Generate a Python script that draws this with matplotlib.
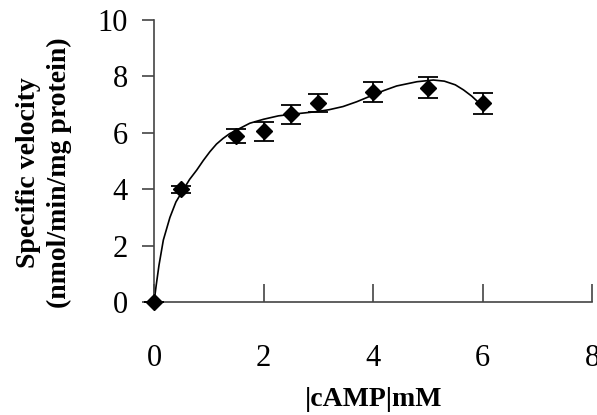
import numpy as np
import matplotlib.pyplot as plt

plt.rcParams['font.family'] = ['Liberation Serif', 'DejaVu Serif']

# measured points
camp = [0, 0.5, 1.5, 2, 2.5, 3, 4, 5, 6]
velocity = [0, 4.0, 5.9, 6.05, 6.65, 7.05, 7.45, 7.6, 7.05]
err = [0, 0.12, 0.25, 0.35, 0.35, 0.32, 0.36, 0.37, 0.37]

# fitted curve
curve_x = [0, 0.04, 0.09, 0.17, 0.29, 0.4, 0.53, 0.65, 0.78, 0.9, 1.02, 1.14,
           1.26, 1.38, 1.51, 1.75, 2.0, 2.27, 2.48, 2.97, 3.2, 3.45, 3.7, 3.95,
           4.2, 4.43, 4.8, 5.1, 5.3, 5.5, 5.65, 5.8, 5.9, 6.0]
curve_y = [0, 0.6, 1.3, 2.2, 3.0, 3.55, 3.97, 4.35, 4.68, 5.02, 5.33, 5.6,
           5.8, 5.97, 6.1, 6.34, 6.48, 6.6, 6.65, 6.75, 6.82, 6.93, 7.1, 7.3,
           7.5, 7.66, 7.81, 7.87, 7.83, 7.7, 7.52, 7.3, 7.12, 7.0]

fig = plt.figure(figsize=(5.97, 4.15), dpi=100)
ax = fig.add_axes([0.258, 0.272, 0.734, 0.68])

ax.plot(curve_x, curve_y, c='k', lw=1.2, clip_on=False)
ax.errorbar(camp, velocity, yerr=err, fmt='D', c='k', ms=8, capsize=7,
            elinewidth=1.3, capthick=1.3, clip_on=False, zorder=3)

ax.set_xlim(0, 8)
ax.set_ylim(0, 10)
ax.set_xticks([0, 2, 4, 6, 8])
ax.set_yticks([0, 2, 4, 6, 8, 10])
ax.spines['top'].set_visible(False)
ax.spines['right'].set_visible(False)
for s in ['left', 'bottom']:
    ax.spines[s].set_color('#444444')
    ax.spines[s].set_linewidth(1.2)
ax.tick_params(axis='x', direction='in', length=13, width=1.2, color='#444444',
               labelsize=22, pad=30)
ax.tick_params(axis='y', direction='out', length=9, width=1.2, color='#444444',
               labelsize=22, pad=10)

ax.set_xlabel('|cAMP|mM', fontsize=20, fontweight='bold', labelpad=10)
fig.text(0.073, 0.585, 'Specific velocity\n(nmol/min/mg protein)',
         rotation=90, ha='center', va='center', fontsize=20,
         fontweight='bold', linespacing=1.3)

plt.savefig('out.png', dpi=100)
